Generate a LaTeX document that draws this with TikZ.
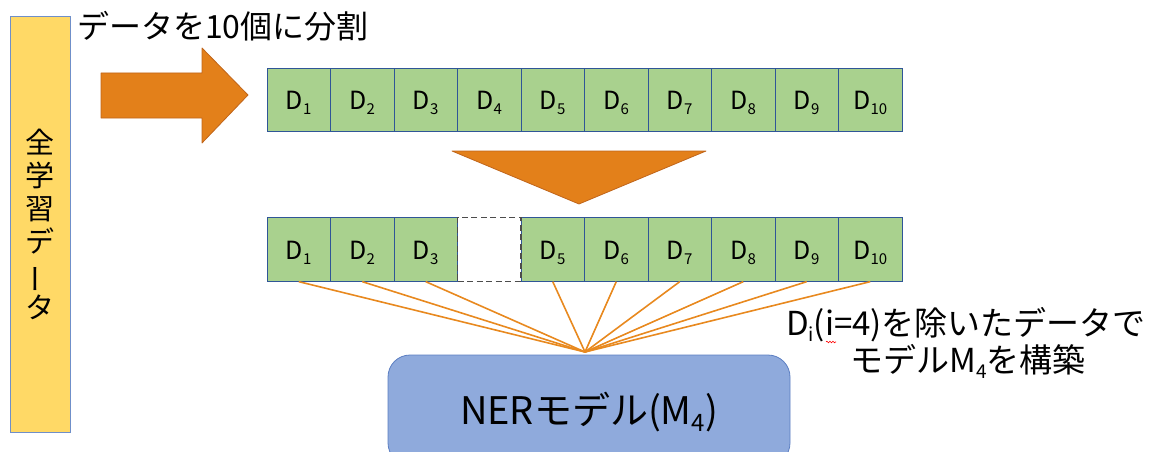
\documentclass[tikz,border=0pt]{standalone}
\usepackage{fontspec}
\setmainfont{Noto Sans CJK JP}
\usetikzlibrary{decorations.pathmorphing}

\definecolor{barfill}{HTML}{FFD966}
\definecolor{barline}{HTML}{6F8FC9}
\definecolor{cellfill}{HTML}{A9D18E}
\definecolor{cellline}{HTML}{2F5597}
\definecolor{arrowfill}{HTML}{E3801A}
\definecolor{arrowline}{HTML}{C0651A}
\definecolor{linkline}{HTML}{E8891F}
\definecolor{boxfill}{HTML}{8FAADC}
\definecolor{boxline}{HTML}{5B7EC2}

% subscript used in the cell labels
\newcommand{\dsub}[1]{\raisebox{-5pt}{\fontsize{15}{15}\selectfont #1}}

\tikzset{
  bigtext/.style={font=\fontsize{#1}{#1}\selectfont, inner sep=0pt},
  cellbox/.style={draw=cellline, line width=0.8pt, fill=cellfill,
    minimum width=63.5pt, minimum height=63.5pt, inner sep=0pt,
    text height=20pt, text depth=0pt, font=\fontsize{25}{25}\selectfont},
  gapbox/.style={cellbox, draw=black!70, line width=1.3pt,
    dash pattern=on 6pt off 3.5pt, fill=white},
  link/.style={draw=linkline, line width=1.6pt},
  bigarrow/.style={fill=arrowfill, draw=arrowline, line width=0.8pt, line join=round},
}

\begin{document}
\begin{tikzpicture}[x=1pt, y=-1pt]
  \useasboundingbox (0,0) rectangle (1154,452);
  \clip (0,0) rectangle (1154,452);

  % full training data bar
  \node[draw=barline, line width=0.8pt, fill=barfill, minimum width=60pt,
        minimum height=416pt, inner sep=0pt, align=center,
        font=\fontsize{29}{33}\selectfont] (all) at (40,224)
        {全\\学\\習\\デ\\\rotatebox[origin=c]{90}{ー}\\タ};

  % caption of the split
  \node[bigtext=32, anchor=base west] (split) at (77,39) {データを10個に分割};

  % right-pointing block arrow
  \draw[bigarrow] (101,73) -- (202,73) -- (202,48) -- (248,95)
        -- (202,143) -- (202,118) -- (101,118) -- cycle;

  % first row: ten folds
  \foreach \i in {1,...,10} {
    \node[cellbox] (a\i) at ({267+63.5*(\i-0.5)},100) {D\dsub{\i}};
  }

  % downward triangle
  \draw[bigarrow] (452,151) -- (706,151) -- (579,204) -- cycle;

  % second row: fold 4 left out
  \foreach \i in {1,2,3,5,6,7,8,9,10} {
    \node[cellbox] (b\i) at ({267+63.5*(\i-0.5)},249.5) {D\dsub{\i}};
  }
  \node[gapbox] (b4) at ({267+63.5*3.5},249.5) {};

  % model box
  \node[draw=boxline, line width=0.8pt, fill=boxfill, rounded corners=22pt,
        minimum width=402pt, minimum height=110pt, inner sep=0pt,
        text height=28pt, text depth=0pt,
        font=\fontsize{38}{38}\selectfont] (ner) at (589,410)
        {NERモデル(M\raisebox{-7pt}{\fontsize{24}{24}\selectfont 4})};

  % links from the remaining folds to the model
  \coordinate (hub) at (585,352);
  \foreach \i in {1,2,3,5,6,7,8,9,10} {
    \draw[link] (b\i.south) -- (hub);
  }

  % explanation
  \node[bigtext=33, anchor=base] (note1) at (966,335)
        {D\raisebox{-6pt}{\fontsize{19}{19}\selectfont i}(i=4)を除いたデータで};
  \node[bigtext=33, anchor=base] (note2) at (968,372)
        {モデルM\raisebox{-6pt}{\fontsize{19}{19}\selectfont 4}を構築};

  % spell-check wave under the index
  \draw[red, line width=0.6pt, decorate,
        decoration={snake, amplitude=0.8pt, segment length=3pt}]
        (826,342) -- (836,342);
\end{tikzpicture}
\end{document}
